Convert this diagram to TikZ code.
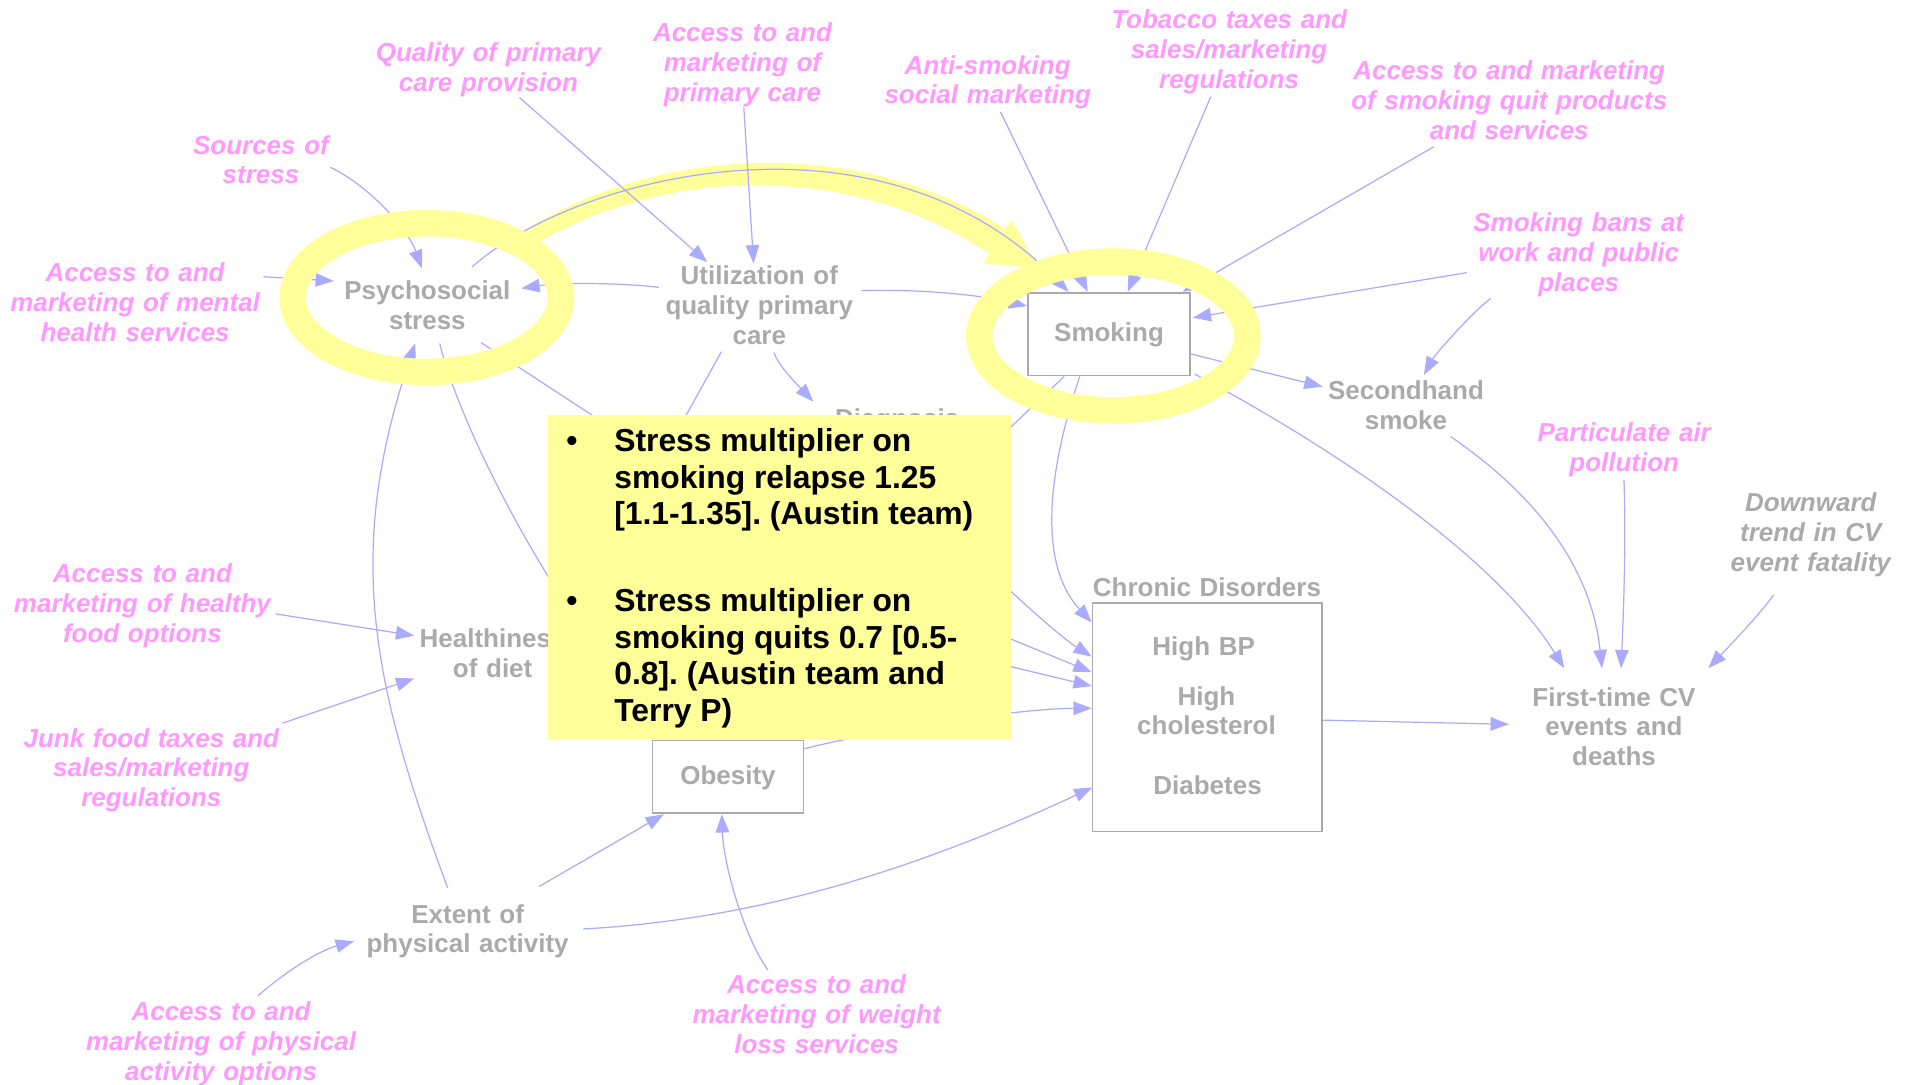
\documentclass[tikz,border=0pt]{standalone}
\usepackage{fontspec}
\setmainfont{Liberation Sans}
\usetikzlibrary{arrows.meta,calc}
\definecolor{pinklbl}{HTML}{FF99FF}
\definecolor{graylbl}{HTML}{AAAAAA}
\definecolor{linkblue}{HTML}{AAAAFF}
\definecolor{hilite}{HTML}{FFFF99}
\definecolor{boxgray}{HTML}{AAAAAA}
\frenchspacing

\begin{document}
\begin{tikzpicture}[x=0.5pt,y=-0.5pt,
  lbl/.style={text width=150pt, align=center, inner sep=0pt, anchor=base,
    font=\fontsize{10.65pt}{12.25pt}\selectfont\bfseries\itshape, text=pinklbl},
  var/.style={text width=150pt, align=center, inner sep=0pt, anchor=base,
    font=\fontsize{10.65pt}{12.25pt}\selectfont\bfseries, text=graylbl},
  stock/.style={draw=boxgray, line width=0.7pt, inner sep=0pt,
    font=\fontsize{10.65pt}{12.25pt}\selectfont\bfseries, text=graylbl},
  notetext/.style={inner sep=0pt, anchor=base west,
    font=\fontsize{13.05pt}{15pt}\selectfont\bfseries, text=black},
  link/.style={draw=linkblue, line width=0.5pt, -{Triangle[length=7.5pt,width=5.5pt]}},
  plain/.style={draw=linkblue, line width=0.5pt},
  ring/.style={draw=hilite, line width=10.85pt},
]
\fill[white] (0,0) rectangle (1568,889);
\useasboundingbox (0,0) rectangle (1568,889);

% ---------- policy levers (pink) ----------
\node[lbl] (qual)    at (400.6,50.6)  {Quality of primary\\care provision};
\node[lbl] (accpc)   at (608.9,34.2)  {Access to and\\marketing of\\primary care};
\node[lbl] (anti)    at (810,60.7)    {Anti-smoking\\social marketing};
\node[lbl] (tob)     at (1008,23.2)   {Tobacco taxes and\\sales/marketing\\regulations};
\node[lbl] (quit)    at (1237.7,65.6) {Access to and marketing\\of smoking quit products\\and services};
\node[lbl] (src)     at (214,126.3)   {Sources of\\stress};
\node[lbl] (mental)  at (110.8,231)   {Access to and\\marketing of mental\\health services};
\node[lbl] (bans)    at (1294.7,190)  {Smoking bans at\\work and public\\places};
\node[lbl] (partic)  at (1332,362.2)  {Particulate air\\pollution};
\node[lbl, text=graylbl] (trend) at (1485,419.6) {Downward\\trend in CV\\event fatality};
\node[lbl] (healthy) at (116.8,477.7)  {Access to and\\marketing of healthy\\food options};
\node[lbl] (junk)    at (124.1,612.6)  {Junk food taxes and\\sales/marketing\\regulations};
\node[lbl] (physopt) at (181.3,837)    {Access to and\\marketing of physical\\activity options};
\node[lbl] (weight)  at (669.7,814.6)  {Access to and\\marketing of weight\\loss services};

% ---------- model variables (gray) ----------
\node[var] (psy)    at (350.5,246)   {Psychosocial\\stress};
\node[var] (util)   at (622.7,233.7) {Utilization of\\quality primary\\care};
\node[var] (second) at (1153,328)    {Secondhand\\smoke};
\node[var] (diag)   at (735.7,350.7) {Diagnosis};
\node[var] (health) at (404,531.4)   {Healthiness\\of diet};
\node[var] (cv)     at (1323.6,579)  {First-time CV\\events and\\deaths};
\node[var] (ext)    at (383.5,757)   {Extent of\\physical activity};

\node[stock, minimum width=66.5pt, minimum height=34pt, text height=8pt, text depth=1.6pt] (smoke) at (909.5,274) {Smoking};
\node[stock, minimum width=62pt, minimum height=30pt, text height=8pt, text depth=1.6pt] (obes) at (597,637) {Obesity};
\node[stock, minimum width=94pt, minimum height=93.75pt] (chron) at (990,588.25) {};
\node[var] (chrtitle) at (989.8,488.8) {Chronic Disorders};
\node[var] (hbp)      at (987.1,537.2) {High BP};
\node[var] (hchol)    at (989.4,578.2) {High\\cholesterol};
\node[var] (diab)     at (990.3,651.4) {Diabetes};

% ---------- highlight arrow from stress to smoking ----------
\fill[hilite] (428.3,190) .. controls (546.3,115.4) and (711.3,114.9) .. (824.6,188)
  -- (811.4,208) .. controls (704.7,135.9) and (551.7,132.6) .. (435.7,202) -- cycle;
\fill[hilite] (829.6,180.4) -- (851.5,220) -- (806.4,216) -- cycle;

% ---------- hidden ends under the note ----------
\coordinate (hA) at (548,367);
\coordinate (hB) at (520,363);
\coordinate (hC) at (458,486);
\coordinate (hD) at (807,371);
\coordinate (hE) at (790,448);
\coordinate (hF) at (790,508);
\coordinate (hG) at (790,537.4);

% ---------- causal links ----------
\draw[link] ($(qual.base)+(25.4,29.4)$) -- ($(util.base)+(-42.7,-18.7)$);
\draw[link] ($(accpc.base)+(1.1,53.8)$) -- ($(util.base)+(-4.7,-17.7)$);
\draw[link] ($(anti.base)+(10.4,30.9)$) -- ($(smoke.north)+(-17.5,0)$);
\draw[link] ($(tob.base)+(-15.1,56.1)$) -- ($(smoke.north)+(15.3,0)$);
\draw[link] ($(quit.base)+(-61.8,54.7)$) -- ($(smoke.north)+(60.4,0)$);
\draw[link] ($(bans.base)+(-91.7,33.6)$) -- ($(smoke.east)+(1.5,-13.5)$);
\draw[link] ($(bans.base)+(-72.3,54.7)$) .. controls +(-15.8,12.2) and +(9.7,-17.5) .. ($(second.base)+(14.7,-20.5)$);
\draw[link] ($(smoke.east)+(0,16.3)$) -- ($(second.base)+(-68.4,-10.9)$);
\draw[link] ($(smoke.south east)+(3,-2)$) .. controls +(111,59) and +(-57.8,-93) .. ($(cv.base)+(-40.8,-31)$);
\draw[link] ($(second.base)+(36.7,30.1)$) .. controls +(74.2,50.9) and +(-8.6,-79.5) .. ($(cv.base)+(-9.8,-31)$);
\draw[link] ($(partic.base)+(-0.2,31.4)$) .. controls +(1.7,51.4) and +(2.1,-48) .. ($(cv.base)+(5.8,-31)$);
\draw[link] ($(trend.base)+(-30.6,68.3)$) .. controls +(-11.4,16.4) and +(13.7,-14.6) .. ($(cv.base)+(77.4,-31)$);
\draw[link] ($(chron.east)+(0,2.3)$) -- ($(cv.base)+(-86.2,15)$);
\draw[link] ($(util.base)+(83.6,4.7)$) .. controls +(43.7,-1.4) and +(-42.8,-10) .. ($(smoke.west)+(0,-23)$);
\draw[link] ($(util.base)+(-82.4,1.9)$) .. controls +(-30.3,-3.6) and +(32.4,-5) .. ($(psy.base)+(77.1,-9.5)$);
\draw[link] ($(src.base)+(56.9,10.9)$) .. controls +(31.5,15.1) and +(-11.9,-32.9) .. ($(psy.base)+(-4.5,-26)$);
\draw[link] ($(mental.base)+(105.2,-4.1)$) -- ($(psy.base)+(-76.7,-15.6)$);
\draw[link] ($(psy.base)+(36.5,-27)$) .. controls +(83,-74) and +(-157,-160) .. ($(smoke.north west)+(34,0)$);
\draw[link] ($(util.base)+(12.1,55.5)$) .. controls +(3.6,11.4) and +(-10.2,-10.9) .. ($(diag.base)+(-68.7,-21.3)$);
\draw[plain] ($(util.base)+(-31.1,54.7)$) -- (hA);
\draw[plain] ($(psy.base)+(44.1,35)$) -- (hB);
\draw[plain] ($(psy.base)+(10.1,35.6)$) .. controls +(11.4,48.4) and +(-44,-68) .. (hC);
\draw[plain] ($(smoke.south)+(-36.7,0)$) -- (hD);
\draw[link] ($(smoke.south)+(-24,0)$) .. controls +(-22.4,66.5) and +(-47.6,-51.8) .. ($(chron.north west)+(0,16.7)$);
\draw[link] (hE) .. controls +(40,39) and +(-26,-16.5) .. ($(chron.west)+(0,-49.75)$);
\draw[link] (hF) -- ($(chron.west)+(0,-36.95)$);
\draw[link] (hG) -- ($(chron.west)+(0,-25.65)$);
\draw[link] ($(obes.east)+(0,-23)$) .. controls +(58.2,-14.8) and +(-60,0) .. ($(chron.west)+(0,-7.35)$);
\draw[link] ($(healthy.base)+(109.1,25.7)$) -- ($(health.base)+(-64.3,-10.1)$);
\draw[link] ($(junk.base)+(107.6,-19.6)$) -- ($(health.base)+(-64.3,25)$);
\draw[link] ($(ext.base)+(58.4,-29.9)$) -- ($(obes.south west)+(10.2,0)$);
\draw[link] ($(ext.base)+(94.8,4.8)$) .. controls +(149.7,-8.1) and +(-136.1,63.2) .. ($(chron.south west)+(0.6,-36.9)$);
\draw[link] ($(ext.base)+(-16.3,-28.8)$) .. controls +(-63,-169.2) and +(-57.6,171) .. ($(psy.base)+(-10,35.5)$);
\draw[link] ($(weight.base)+(-40,-19.1)$) .. controls +(-20.3,-28.7) and +(1.2,40) .. ($(obes.south)+(-5,0)$);
\draw[link] ($(physopt.base)+(30.3,-20.4)$) .. controls +(22.5,-19.8) and +(-28.8,7.8) .. ($(ext.base)+(-93.2,14.9)$);

% ---------- highlight rings ----------
\draw[ring] ($(psy.base)+(-0.5,-2)$) ellipse [x radius=110, y radius=61];
\draw[ring] ($(smoke.center)+(3.5,1.5)$) ellipse [x radius=110, y radius=61];

% ---------- note ----------
\node[fill=hilite, minimum width=190pt, minimum height=133.5pt, inner sep=0pt] (note) at (639,473.5) {};
\node[notetext, anchor=base] (bul1) at (469,370.4) {\textbullet};
\node[notetext] (n1) at (503.4,370.4) {Stress multiplier on};
\node[notetext] (n2) at (503.4,400.4) {smoking relapse 1.25};
\node[notetext] (n3) at (503.4,430.4) {[1.1-1.35]. (Austin team)};
\node[notetext, anchor=base] (bul2) at (469,501.6) {\textbullet};
\node[notetext] (n4) at (503.4,501.6) {Stress multiplier on};
\node[notetext] (n5) at (503.4,531.6) {smoking quits 0.7 [0.5-};
\node[notetext] (n6) at (503.4,561.6) {0.8]. (Austin team and};
\node[notetext] (n7) at (503.4,591.6) {Terry P)};
\end{tikzpicture}
\end{document}
